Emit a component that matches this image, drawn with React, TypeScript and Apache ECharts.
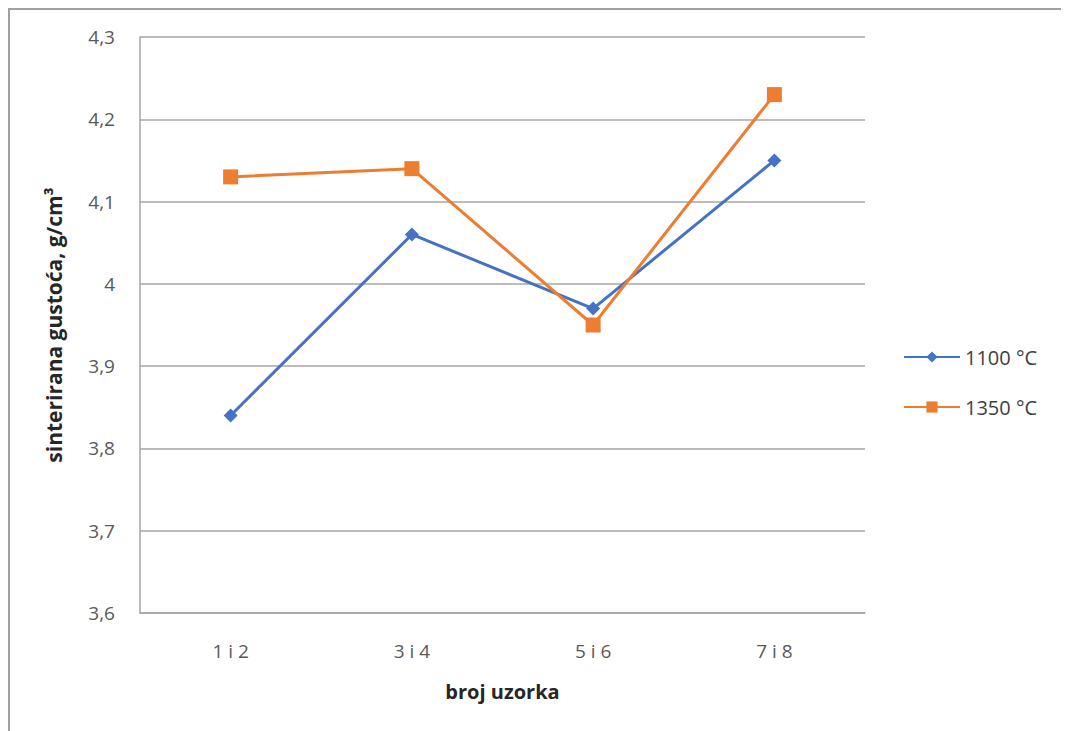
import React, { useEffect, useRef } from "react";
import * as echarts from "echarts";

const categories = ["1 i 2", "3 i 4", "5 i 6", "7 i 8"];
const series1100 = [3.84, 4.06, 3.97, 4.15];
const series1350 = [4.13, 4.14, 3.95, 4.23];
const seriesNames = ["1100 °C", "1350 °C"];
const yTicks = { min: 3.6, max: 4.3, interval: 0.1 };

const FONT = "'Open Sans', 'Noto Sans', sans-serif";

export default function App() {
  const ref = useRef<HTMLDivElement>(null);
  useEffect(() => {
    if (!ref.current) return;
    const chart = echarts.init(ref.current, undefined, { renderer: "svg" });
    chart.setOption({
      animation: false,
      backgroundColor: "#ffffff",
      textStyle: { fontFamily: FONT },
      graphic: [
        {
          type: "rect",
          shape: { x: 1, y: 1, width: 1200, height: 900 },
          style: { fill: "none", stroke: "#a0a0a0", lineWidth: 2 },
          silent: true,
        },
      ],
      grid: { left: 132, top: 29, width: 725, height: 576, containLabel: false },
      legend: {
        orient: "vertical",
        left: 890,
        top: 334,
        itemWidth: 56,
        itemHeight: 14,
        itemGap: 30,
        textStyle: { fontFamily: FONT, fontSize: 20, lineHeight: 17, color: "#404040" },
        data: seriesNames,
      },
      xAxis: {
        type: "category",
        data: categories,
        boundaryGap: true,
        name: "broj uzorka",
        nameLocation: "middle",
        nameGap: 68,
        nameTextStyle: { fontFamily: FONT, fontSize: 20, fontWeight: "bold", color: "#262626" },
        axisLine: { show: true, lineStyle: { color: "#a6a6a6", width: 1.5 } },
        axisTick: { show: false },
        axisLabel: { margin: 28, fontSize: 19, color: "#595959", fontFamily: FONT },
      },
      yAxis: {
        type: "value",
        min: yTicks.min,
        max: yTicks.max,
        interval: yTicks.interval,
        name: "sinterirana gustoća, g/cm³",
        nameLocation: "middle",
        nameGap: 76,
        nameTextStyle: { fontFamily: FONT, fontSize: 21, fontWeight: "bold", color: "#262626" },
        axisLine: { show: true, lineStyle: { color: "#a6a6a6", width: 1.5 } },
        axisTick: { show: false },
        splitLine: { show: true, lineStyle: { color: "#a6a6a6", width: 1.5 } },
        axisLabel: {
          margin: 25,
          fontSize: 19,
          color: "#595959",
          fontFamily: FONT,
          formatter: (v: number) => parseFloat(v.toFixed(1)).toString().replace(".", ","),
        },
      },
      series: [
        {
          name: seriesNames[0],
          type: "line",
          data: series1100,
          symbol: "diamond",
          symbolSize: 14,
          itemStyle: { color: "#4472C4" },
          lineStyle: { color: "#4472C4", width: 3 },
        },
        {
          name: seriesNames[1],
          type: "line",
          data: series1350,
          symbol: "rect",
          symbolSize: 15,
          itemStyle: { color: "#ED7D31" },
          lineStyle: { color: "#ED7D31", width: 3 },
        },
      ],
    });
    return () => chart.dispose();
  }, []);
  return <div ref={ref} style={{ width: 1061, height: 723 }} />;
}
